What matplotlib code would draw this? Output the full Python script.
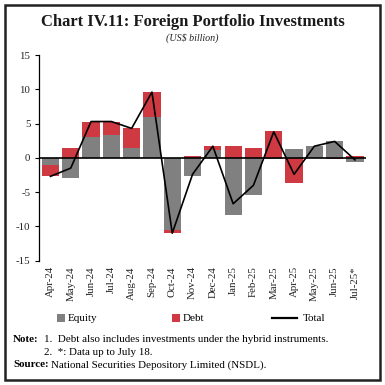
import numpy as np
import matplotlib.pyplot as plt
from matplotlib.patches import Rectangle
from matplotlib.lines import Line2D

plt.rcParams['font.family'] = ['Liberation Serif', 'DejaVu Serif']

months = ["Apr-24", "May-24", "Jun-24", "Jul-24", "Aug-24", "Sep-24", "Oct-24", "Nov-24",
          "Dec-24", "Jan-25", "Feb-25", "Mar-25", "Apr-25", "May-25", "Jun-25", "Jul-25*"]
equity = np.array([-1.1, -3.0, 3.1, 3.4, 1.4, 5.9, -10.5, -2.7,
                   1.2, -8.4, -5.4, -0.1, 1.3, 1.7, 2.5, -0.6])
debt = np.array([-1.6, 1.5, 2.2, 1.9, 2.9, 3.7, -0.5, 0.3,
                 0.5, 1.7, 1.4, 3.9, -3.7, 0.0, -0.1, 0.3])
total = equity + debt

gray = "#808080"
red = "#cf3a42"

fig = plt.figure(figsize=(3.85, 3.85), dpi=100)
ax = fig.add_axes([0.102, 0.323, 0.849, 0.534])

x = np.arange(len(months))
same = np.sign(debt) == np.sign(equity)
debt_bottom = np.where(same, equity, 0)

ax.bar(x, equity, width=0.85, color=gray, zorder=2)
ax.bar(x, debt, bottom=debt_bottom, width=0.85, color=red, zorder=2)
ax.plot(x, total, color="black", lw=1.2, zorder=3)
ax.axhline(0, color="black", lw=1.2, zorder=4)

ax.set_xlim(-0.55, len(months) - 0.45)
ax.set_ylim(-15, 15)
ax.set_yticks([-15, -10, -5, 0, 5, 10, 15])
ax.set_yticklabels(["-15", "-10", "-5", "0", "5", "10", "15"])
ax.set_xticks(x)
ax.set_xticklabels(months, rotation=90)
ax.tick_params(axis="x", length=0, labelsize=7.8, colors="#222222", pad=4)
ax.tick_params(axis="y", length=3, width=0.8, labelsize=7.8, colors="#222222")
ax.tick_params(axis="y", color="black")
for s in ["top", "right", "bottom"]:
    ax.spines[s].set_visible(False)
ax.spines["left"].set_linewidth(0.9)

# outer frame
fig.patches.append(Rectangle((0.013, 0.013), 0.974, 0.974, transform=fig.transFigure,
                             fill=False, edgecolor="#222222", lw=1.8))

fig.text(0.5, 0.942, "Chart IV.11: Foreign Portfolio Investments", ha="center", va="center",
         fontsize=12, fontweight="bold", color="#1a1a1a")
fig.text(0.5, 0.902, "(US$ billion)", ha="center", va="center", fontsize=7.2, style="italic",
         color="#222222")

# legend, laid out by hand to match spacing
ly = 0.174
sq = 8 / 385
for x0, col, lab in [(57 / 385, gray, "Equity"), (172 / 385, red, "Debt")]:
    fig.patches.append(Rectangle((x0, ly - sq / 2), sq, sq, transform=fig.transFigure,
                                 facecolor=col, edgecolor="none"))
    fig.text(x0 + 11 / 385, ly, lab, fontsize=8, va="center")
fig.lines.append(Line2D([272 / 385, 297 / 385], [ly, ly], transform=fig.transFigure,
                        color="black", lw=1.6))
fig.text(303 / 385, ly, "Total", fontsize=8, va="center")

fs = 7.9
fig.text(0.034, 0.117, "Note:", fontsize=fs, fontweight="bold", va="center")
fig.text(0.113, 0.117, "1.  Debt also includes investments under the hybrid instruments.",
         fontsize=fs, va="center")
fig.text(0.113, 0.085, "2.  *: Data up to July 18.", fontsize=fs, va="center")
fig.text(0.034, 0.052, "Source:", fontsize=fs, fontweight="bold", va="center")
fig.text(0.133, 0.052, "National Securities Depository Limited (NSDL).", fontsize=fs, va="center")

fig.savefig("out.png", dpi=100)
